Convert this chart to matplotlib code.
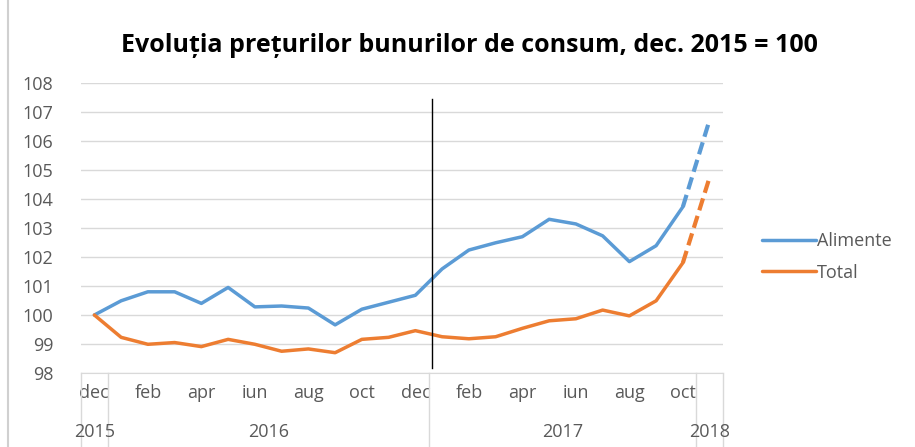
import matplotlib
matplotlib.use("Agg")
import matplotlib.pyplot as plt
import matplotlib.transforms as mtransforms
from matplotlib.lines import Line2D

plt.rcParams["font.family"] = ["Open Sans", "DejaVu Sans"]

# data: dec 2015 = 100, dec 2015 .. oct 2017 + one 2018 point (dashed)
months = ["dec", "", "feb", "", "apr", "", "iun", "", "aug", "", "oct", "",
          "dec", "", "feb", "", "apr", "", "iun", "", "aug", "", "oct", ""]
years = ["2015", "2016", "2017", "2018"]
year_bounds = [(-0.5, 0.5), (0.5, 12.5), (12.5, 22.5), (22.5, 23.5)]

alimente = [100.0, 100.49, 100.80, 100.80, 100.40, 100.95, 100.28, 100.31,
            100.24, 99.66, 100.20, 100.44, 100.68, 101.59, 102.24, 102.49,
            102.70, 103.30, 103.14, 102.73, 101.84, 102.39, 103.73, 106.73]
total = [100.0, 99.23, 98.99, 99.05, 98.91, 99.16, 98.99, 98.75, 98.83, 98.70,
         99.16, 99.23, 99.46, 99.25, 99.18, 99.25, 99.54, 99.80, 99.87, 100.17,
         99.97, 100.49, 101.80, 104.75]

BLUE = "#5B9BD5"
ORANGE = "#ED7D31"
GREY = "#595959"
GRID = "#D9D9D9"
FS = 13

fig = plt.figure(figsize=(9.15, 4.47), dpi=100)
ax = fig.add_axes([81 / 915, 1 - 373 / 447, 642 / 915, 290 / 447])

x = list(range(len(months)))
n = len(x)
dash = (0, (3.0, 1.4))
# solid part, dashed last step
ax.plot(x[:n - 1], alimente[:n - 1], color=BLUE, lw=2.5, label="Alimente",
        solid_capstyle="round", zorder=3)
ax.plot(x[n - 2:], alimente[n - 2:], color=BLUE, lw=3.0, ls=dash, zorder=3)
ax.plot(x[:n - 1], total[:n - 1], color=ORANGE, lw=2.5, label="Total",
        solid_capstyle="round", zorder=3)
ax.plot(x[n - 2:], total[n - 2:], color=ORANGE, lw=3.0, ls=dash, zorder=3)

# vertical marker line between dec 2016 and jan 2017
ax.axvline(12.62, ymin=0.018, ymax=0.946, color="black", lw=1, zorder=4)

ax.set_xlim(-0.5, n - 0.5)
ax.set_ylim(98, 108)
ax.set_yticks(range(98, 109))
ax.yaxis.grid(True, color=GRID, lw=1)
ax.set_axisbelow(True)
for s in ["top", "right", "left"]:
    ax.spines[s].set_visible(False)
ax.spines["bottom"].set_color(GRID)

ax.set_xticks(x)
ax.set_xticklabels(months)
ax.tick_params(axis="x", length=0, pad=8, labelsize=FS, labelcolor=GREY)
ax.tick_params(axis="y", length=0, pad=20, labelsize=FS, labelcolor=GREY)

# year separators and labels
trans = mtransforms.blended_transform_factory(ax.transData, ax.transAxes)
edges = sorted(set(b for pair in year_bounds for b in pair))
for e in edges:
    ax.add_line(Line2D([e, e], [0, -0.27], transform=trans, color=GRID,
                       lw=1, clip_on=False))
for yr, (a, b) in zip(years, year_bounds):
    ax.text((a + b) / 2, -0.205, yr, transform=trans, ha="center", va="center",
            fontsize=FS, color=GREY)

fig.text(0.513, 1 - 45 / 447, "Evoluția prețurilor bunurilor de consum, dec. 2015 = 100",
         ha="center", va="center", fontsize=18, fontweight="bold", color="black")

fig.legend(loc="center left", bbox_to_anchor=(762 / 915, 1 - 257 / 447),
           frameon=False, fontsize=FS, handlelength=3.0, handletextpad=0.05,
           labelspacing=0.75, borderpad=0, borderaxespad=0, labelcolor=GREY)

# left border of the chart frame
fig.add_artist(Line2D([8 / 915, 8 / 915], [0, 1], transform=fig.transFigure,
                      color="#D0D0D0", lw=1.5))

fig.savefig("out.png", dpi=100)
